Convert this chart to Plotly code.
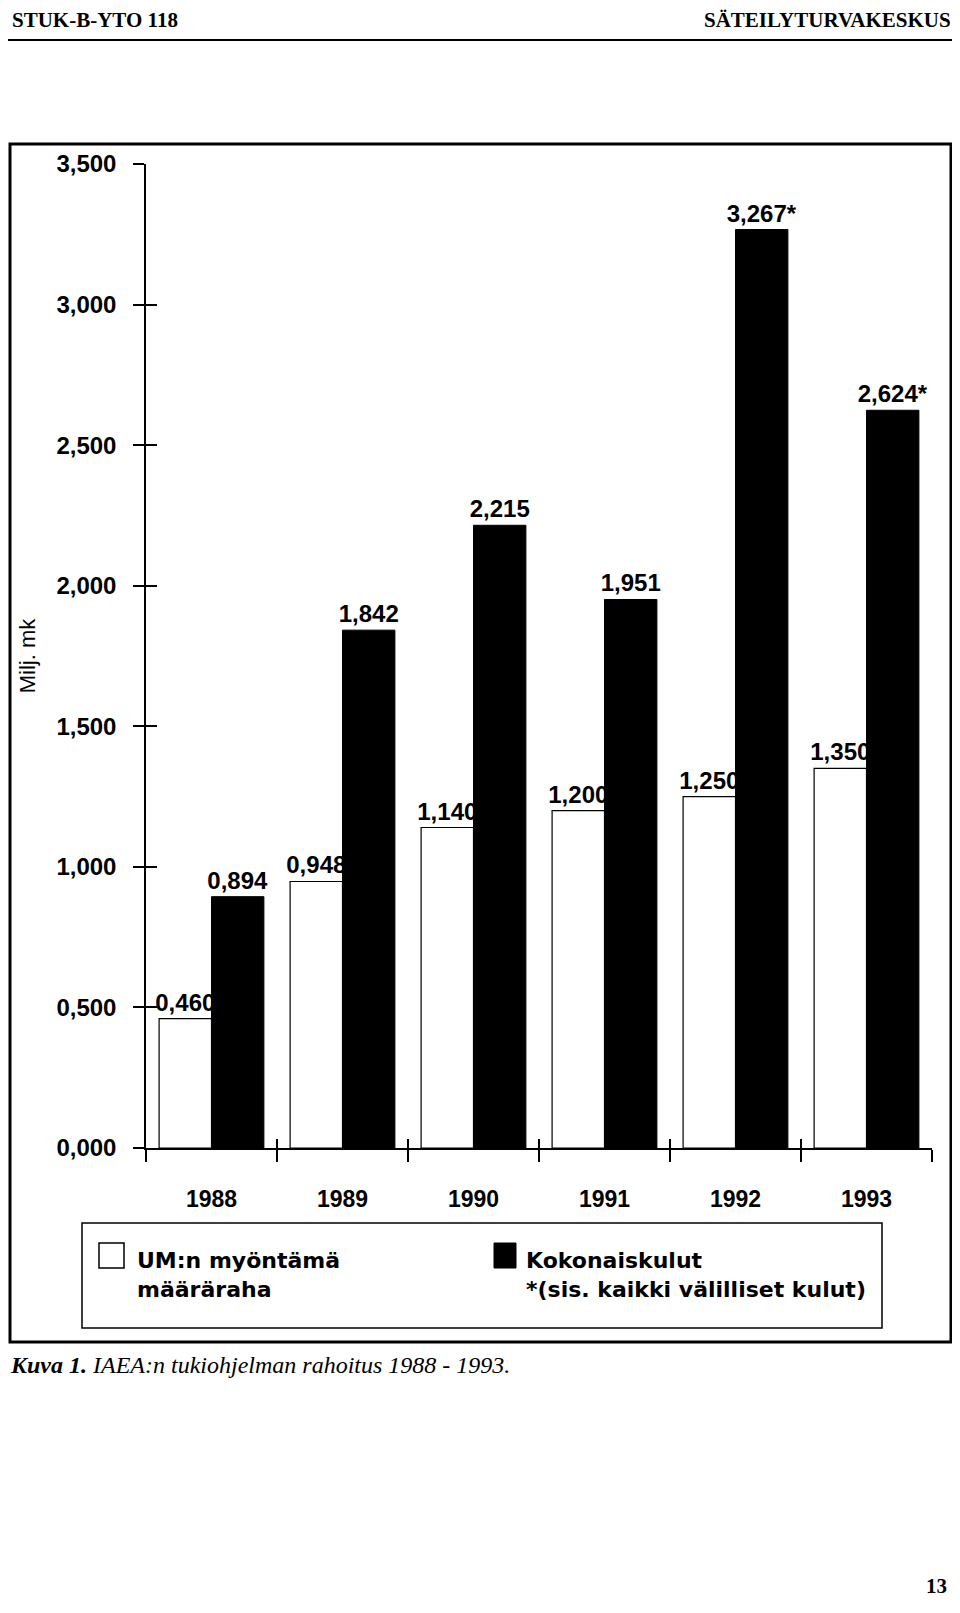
import plotly.graph_objects as go

# IAEA support programme funding 1988-1993 (Milj. mk)
years = ['1988', '1989', '1990', '1991', '1992', '1993']
um_grant = [0.460, 0.948, 1.140, 1.200, 1.250, 1.350]
total_cost = [0.894, 1.842, 2.215, 1.951, 3.267, 2.624]
incl_indirect = [False, False, False, False, True, True]   # marked with *

name_grant = 'UM:n myöntämä<br>määräraha'
name_total = 'Kokonaiskulut<br>*(sis. kaikki välilliset kulut)'

SANS = 'Liberation Sans, Arial, sans-serif'
WIDE = 'DejaVu Sans, Verdana, sans-serif'
SERIF = 'Liberation Serif, Times New Roman, serif'

# page -> paper coords (plot area is 146..932 x 164..1148 on the page)
def px_x(x):
    return (x - 146) / 786

def px_y(y):
    return (1148 - y) / 984


fig = go.Figure()

fig.add_trace(go.Bar(
    x=years, y=um_grant, name=name_grant,
    marker=dict(color='white', line=dict(color='black', width=1.2)),
    texttemplate='%{y:.3f}', textposition='outside',
    constraintext='none', cliponaxis=False,
    textfont=dict(family=SANS, size=24, color='black', weight='bold'),
    showlegend=False,
))
fig.add_trace(go.Bar(
    x=years, y=total_cost, name=name_total,
    marker=dict(color='black', line=dict(color='black', width=1)),
    texttemplate=['%{y:.3f}*' if s else '%{y:.3f}' for s in incl_indirect],
    textposition='outside',
    constraintext='none', cliponaxis=False,
    textfont=dict(family=SANS, size=24, color='black', weight='bold'),
    showlegend=False,
))
# empty trace so the overlay axes (inner tick halves) get drawn
fig.add_trace(go.Scatter(x=[], y=[], xaxis='x2', yaxis='y2',
                         showlegend=False, hoverinfo='skip'))

shapes = [
    # header rule
    dict(type='line', xref='paper', yref='paper',
         x0=px_x(8), x1=px_x(960), y0=px_y(40), y1=px_y(40),
         line=dict(color='black', width=2)),
    # outer frame
    dict(type='rect', xref='paper', yref='paper',
         x0=px_x(10), x1=px_x(951), y0=px_y(144), y1=px_y(1342),
         line=dict(color='black', width=3)),
    # legend box
    dict(type='rect', xref='paper', yref='paper',
         x0=px_x(82), x1=px_x(882), y0=px_y(1223), y1=px_y(1328),
         line=dict(color='black', width=1.5)),
    dict(type='rect', xref='paper', yref='paper',
         x0=px_x(99), x1=px_x(124), y0=px_y(1243), y1=px_y(1268),
         fillcolor='white', line=dict(color='black', width=1.5)),
    dict(type='rect', xref='paper', yref='paper',
         x0=px_x(494), x1=px_x(516), y0=px_y(1243), y1=px_y(1268),
         fillcolor='black', line=dict(color='black', width=1)),
]

annotations = [
    dict(text='STUK-B-YTO 118', x=px_x(10), y=px_y(20), xanchor='left',
         font=dict(family=SERIF, size=21, weight='bold')),
    dict(text='SÄTEILYTURVAKESKUS', x=px_x(953), y=px_y(20), xanchor='right',
         font=dict(family=SERIF, size=21, weight='bold')),
    dict(text=name_grant, x=px_x(135), y=px_y(1275), xanchor='left', align='left',
         font=dict(family=WIDE, size=22, weight='bold')),
    dict(text=name_total, x=px_x(524), y=px_y(1275), xanchor='left', align='left',
         font=dict(family=WIDE, size=22, weight='bold')),
    dict(text='<b>Kuva 1.</b> IAEA:n tukiohjelman rahoitus 1988 - 1993.',
         x=px_x(8), y=px_y(1365), xanchor='left',
         font=dict(family=SERIF, size=24, style='italic')),
    dict(text='13', x=px_x(949), y=px_y(1586), xanchor='right',
         font=dict(family=SERIF, size=21, weight='bold')),
]
for a in annotations:
    a.update(xref='paper', yref='paper', yanchor='middle', showarrow=False)
    a['font'].setdefault('color', 'black')

fig.update_layout(
    width=944, height=1597,
    margin=dict(l=138, r=20, t=156, b=457),
    autosize=False,
    paper_bgcolor='white', plot_bgcolor='white',
    barmode='group', bargap=0.2, bargroupgap=0,
    separators=', ',
    font=dict(family=SANS, color='black'),
    shapes=shapes, annotations=annotations,
    xaxis=dict(
        type='category', showline=True, linecolor='black', linewidth=1.5,
        ticks='outside', tickson='boundaries', ticklen=12, tickwidth=1.5,
        tickcolor='black', ticklabelstandoff=30,
        tickfont=dict(family=SANS, size=23, weight='bold'),
        showgrid=False, zeroline=False,
    ),
    yaxis=dict(
        range=[0, 3.5], tickmode='linear', tick0=0, dtick=0.5, tickformat='.3f',
        showline=True, linecolor='black', linewidth=1.5,
        ticks='outside', ticklen=11, tickwidth=1.5, tickcolor='black',
        ticklabelstandoff=12,
        tickfont=dict(family=SANS, size=24, weight='bold'),
        title=dict(text='Milj. mk', standoff=15,
                   font=dict(family=SANS, size=22)),
        showgrid=False, zeroline=False,
    ),
    # overlay axes only give the inner half of the crossing tick marks
    xaxis2=dict(
        overlaying='x', anchor='y', range=[-0.5, 5.5],
        tickmode='array', tickvals=[i - 0.5 for i in range(len(years) + 1)],
        ticks='inside', ticklen=9, tickwidth=1.5, tickcolor='black',
        showticklabels=False, showline=False, showgrid=False, zeroline=False,
    ),
    yaxis2=dict(
        overlaying='y', anchor='x', side='left', range=[0, 3.5],
        tickmode='linear', tick0=0, dtick=0.5,
        ticks='inside', ticklen=11, tickwidth=1.5, tickcolor='black',
        showticklabels=False, showline=False, showgrid=False, zeroline=False,
    ),
)

fig.write_html("out.html")
